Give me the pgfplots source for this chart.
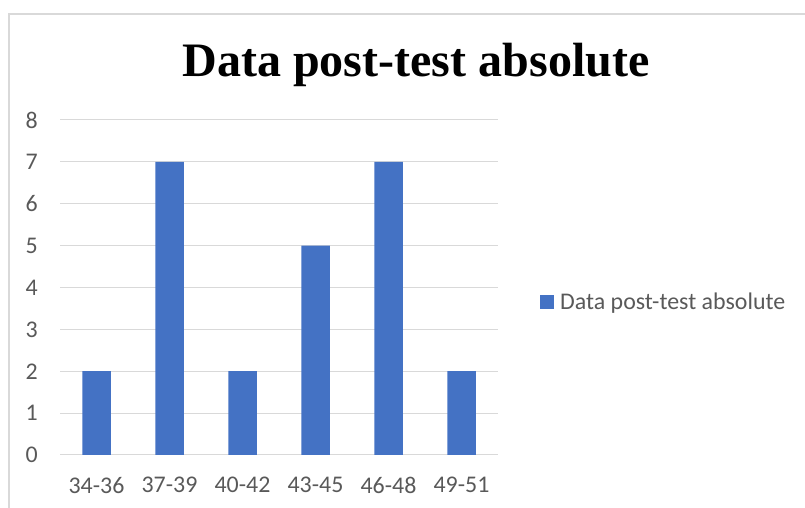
\documentclass[border=0pt]{standalone}
\usepackage{fontspec}
\setmainfont{Carlito}
\newfontfamily\titlefont{Liberation Serif}
\usepackage{pgfplots}
\pgfplotsset{compat=1.18}
\definecolor{barblue}{HTML}{4472C4}
\definecolor{gridgray}{HTML}{D9D9D9}
\definecolor{textgray}{HTML}{595959}
\begin{document}
\begin{tikzpicture}[x=1bp,y=1bp]
\path[use as bounding box] (0,0) rectangle (805,508);
\draw[gridgray, line width=1.5bp] (9,0) -- (9,494) -- (805,494);
\node[anchor=base, inner sep=0pt] at (416,431) {\titlefont\bfseries\fontsize{48.2}{56}\selectfont Data post-test absolute};
\begin{axis}[
  at={(60bp,53bp)}, anchor=south west,
  scale only axis, width=438bp, height=335bp,
  xmin=-0.5, xmax=5.5, ymin=0, ymax=8,
  axis line style={draw=none},
  ymajorgrids, grid style={gridgray, line width=1bp},
  xtick={0,1,2,3,4,5},
  xticklabels={34-36,37-39,40-42,43-45,46-48,49-51},
  ytick={0,1,2,3,4,5,6,7,8},
  major tick length=0pt,
  tick style={draw=none},
  /pgf/number format/assume math mode=true,
  ticklabel style={font=\fontsize{24}{29}\selectfont, text=textgray, inner sep=0pt},
  yticklabel style={anchor=east, xshift=-22bp},
  xticklabel style={anchor=north, yshift=-22bp},
  ybar, bar width=28.5bp,
  legend style={at={(1,0.457)}, anchor=west, xshift=42bp, draw=none, fill=none,
    inner sep=0pt, column sep=6bp,
    nodes={inner sep=0pt, font=\fontsize{24}{29}\selectfont, text=textgray}},
]
\addplot[fill=barblue, draw=none, bar shift=0pt,
  legend image code/.code={\fill[barblue] (0bp,-7bp) rectangle (14bp,7bp);}]
  coordinates {(0,2) (1,7) (2,2) (3,5) (4,7) (5,2)};
\addlegendentry{Data post-test absolute}
\end{axis}
\end{tikzpicture}
\end{document}
